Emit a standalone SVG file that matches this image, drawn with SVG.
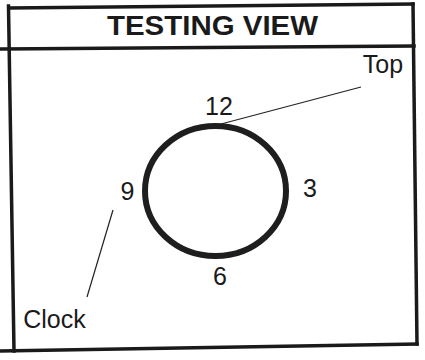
<svg xmlns="http://www.w3.org/2000/svg" width="425" height="360" viewBox="0 0 425 360">
  <style>
    .frame { stroke: #1a1a1a; stroke-width: 3.5; fill: none; stroke-linecap: square; }
    .lbl { font-family: "Liberation Sans", Arial, sans-serif; font-size: 25px; fill: #1a1a1a; text-anchor: middle; }
    .title { font-family: "Liberation Sans", Arial, sans-serif; font-size: 28px; font-weight: bold; fill: #1a1a1a; }
    .leader { stroke: #222; stroke-width: 1.2; fill: none; }
  </style>
  <rect width="425" height="360" fill="#ffffff"/>
  <g id="frame">
    <line class="frame" x1="9" y1="8" x2="413" y2="4"/>
    <line class="frame" x1="8.5" y1="6" x2="14" y2="351"/>
    <line class="frame" x1="413" y1="4" x2="417" y2="344"/>
    <line class="frame" x1="0" y1="49" x2="414" y2="46"/>
    <line class="frame" x1="0" y1="351" x2="417" y2="344"/>
  </g>
  <g id="title">
    <text class="title" x="107" y="35" textLength="211" lengthAdjust="spacingAndGlyphs">TESTING VIEW</text>
  </g>
  <g id="clock">
    <ellipse cx="215.5" cy="191" rx="70.5" ry="65" fill="none" stroke="#1e1e1e" stroke-width="6"/>
  </g>
  <g id="label-12"><text class="lbl" x="219" y="115">12</text></g>
  <g id="label-3"><text class="lbl" x="310" y="197">3</text></g>
  <g id="label-6"><text class="lbl" x="220" y="285">6</text></g>
  <g id="label-9"><text class="lbl" x="127.5" y="200">9</text></g>
  <g id="label-top"><text class="lbl" x="383" y="73">Top</text></g>
  <g id="label-clock"><text class="lbl" x="54.5" y="328">Clock</text></g>
  <g id="connectors">
    <line class="leader" x1="361" y1="87" x2="221" y2="124"/>
    <line class="leader" x1="113" y1="210" x2="87" y2="297"/>
  </g>
</svg>
